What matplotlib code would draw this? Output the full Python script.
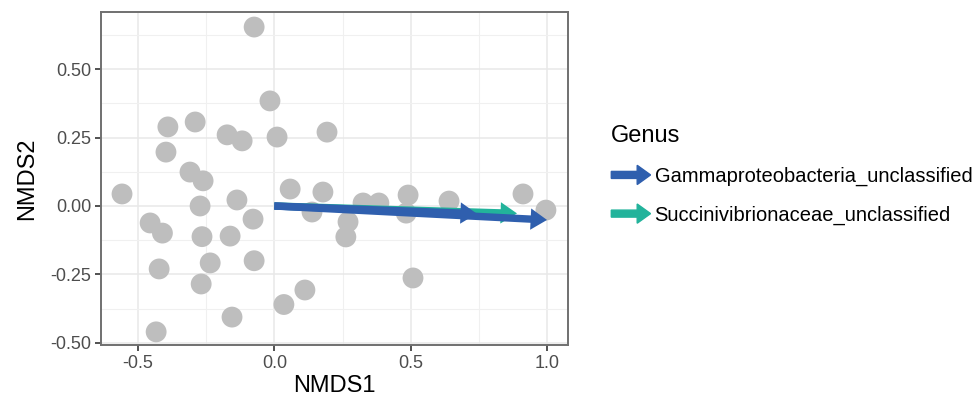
import matplotlib
matplotlib.use('Agg')
import matplotlib.pyplot as plt
import matplotlib.patches as mpatches
from matplotlib.legend_handler import HandlerPatch

plt.rcParams['font.family'] = ['Liberation Sans', 'DejaVu Sans']

# Site scores (NMDS1, NMDS2)
nmds1 = [-0.074, -0.016, 0.010, 0.193, -0.390, -0.290, -0.397, -0.173, -0.118,
         -0.558, -0.309, -0.261, -0.272, -0.137, -0.078, -0.455, -0.410, -0.265,
         -0.162, -0.235, -0.074, -0.422, -0.268, -0.155, 0.035, -0.433, 0.112,
         0.508, 0.058, 0.178, 0.138, 0.325, 0.383, 0.490, 0.483, 0.270, 0.262,
         0.640, 0.911, 0.995]
nmds2 = [0.654, 0.384, 0.252, 0.270, 0.289, 0.307, 0.197, 0.260, 0.238,
         0.044, 0.124, 0.092, 0.000, 0.022, -0.048, -0.062, -0.099, -0.112,
         -0.110, -0.208, -0.200, -0.230, -0.285, -0.406, -0.360, -0.460, -0.307,
         -0.263, 0.062, 0.051, -0.022, 0.011, 0.011, 0.040, -0.026, -0.058, -0.113,
         0.018, 0.044, -0.015]

# Genus vectors (end points, drawn from the origin), in drawing order
genus = ['Succinivibrionaceae_unclassified', 'Gammaproteobacteria_unclassified',
         'Gammaproteobacteria_unclassified']
vec_x = [0.889, 0.999, 0.742]
vec_y = [-0.027, -0.051, -0.028]
colours = {'Gammaproteobacteria_unclassified': '#2f5fae',
           'Succinivibrionaceae_unclassified': '#22b39b'}

fig = plt.figure(figsize=(9.74, 4.08), dpi=100)
ax = fig.add_axes([0.1037, 0.1544, 0.4795, 0.8162])

ax.scatter(nmds1, nmds2, s=225, color='#bebebe', edgecolors='none', zorder=2)

for g, vx, vy in zip(genus, vec_x, vec_y):
    ax.arrow(0, 0, vx, vy, width=0.027, head_width=0.078, head_length=0.06,
             length_includes_head=True, color=colours[g], lw=0, zorder=3)

ax.set_xlim(-0.635, 1.076)
ax.set_ylim(-0.508, 0.709)
ax.set_xticks([-0.5, 0.0, 0.5, 1.0])
ax.set_xticklabels(['-0.5', '0.0', '0.5', '1.0'])
ax.set_yticks([-0.5, -0.25, 0.0, 0.25, 0.5])
ax.set_yticklabels(['-0.50', '-0.25', '0.00', '0.25', '0.50'])
ax.set_xticks([-0.25, 0.25, 0.75], minor=True)
ax.set_yticks([-0.375, -0.125, 0.125, 0.375, 0.625], minor=True)
ax.grid(which='major', color='#e8e8e8', lw=1.1, zorder=0)
ax.grid(which='minor', color='#f0f0f0', lw=0.8, zorder=0)
ax.set_axisbelow(True)
ax.tick_params(which='major', length=4, width=1.2, color='#333333',
               labelsize=13, labelcolor='#4d4d4d', pad=3)
ax.tick_params(which='minor', length=0)
for sp in ax.spines.values():
    sp.set_color('#707070')
    sp.set_linewidth(1.4)

ax.set_xlabel('NMDS1', fontsize=17, color='black', labelpad=2)
ax.set_ylabel('NMDS2', fontsize=17, color='black', labelpad=9)


def make_arrow(legend, orig_handle, xdescent, ydescent, width, height, fontsize):
    return mpatches.FancyArrow(-xdescent, height / 2 - ydescent, width, 0,
                               width=height * 0.42, head_width=height * 1.15,
                               head_length=height * 0.8,
                               length_includes_head=True)


legend_genus = ['Gammaproteobacteria_unclassified', 'Succinivibrionaceae_unclassified']
handles = [mpatches.Patch(color=colours[g], label=g) for g in legend_genus]
leg = fig.legend(handles=handles, title='Genus', loc='upper left',
                 bbox_to_anchor=(0.609, 0.737), frameon=False, fontsize=14.5,
                 title_fontsize=17, handlelength=1.95, handleheight=0.9,
                 handletextpad=0.2, labelspacing=0.95, alignment='left',
                 handler_map={mpatches.Patch: HandlerPatch(patch_func=make_arrow)})

fig.savefig('out.png', dpi=100)
